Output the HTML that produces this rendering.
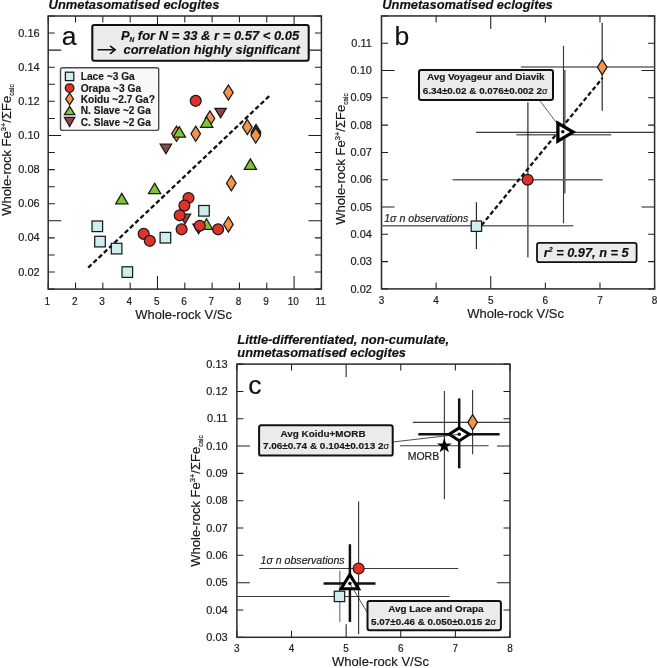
<!DOCTYPE html>
<html><head><meta charset="utf-8"><title>Eclogite Fe3+ vs V/Sc</title><style>
html,body{margin:0;padding:0;background:#fff;}
body{width:657px;height:668px;overflow:hidden;}
svg{display:block;}
text{font-family:"Liberation Sans",Arial,Helvetica,sans-serif;fill:#1a1a1a;stroke:#1a1a1a;stroke-width:0.18px;stroke-linejoin:round;}
.tk{font-size:10px;fill:#222;}
.ax{font-size:13px;fill:#1a1a1a;}
.sup{font-size:7.5px;}
.sub{font-size:6.5px;}
.ttl{font-size:12.9px;font-weight:bold;font-style:italic;fill:#111;}
.big{font-size:26.5px;fill:#111;}
.bi{font-size:12.8px;font-weight:bold;font-style:italic;fill:#111;}
.bi2{font-size:12.8px;font-weight:bold;font-style:italic;fill:#111;}
.subn{font-size:6.5px;}
.sup2{font-size:7px;}
.lg{font-size:10px;font-weight:bold;fill:#1a1a1a;}
.bx{font-size:9.9px;font-weight:bold;fill:#1a1a1a;}
.sg{font-weight:normal;font-size:9px;}
.it{font-size:10.6px;font-style:italic;fill:#222;}
.mo{font-size:10.5px;fill:#222;}
</style></head><body>
<svg width="657" height="668" viewBox="0 0 657 668">
<rect width="657" height="668" fill="#fff"/>
<text x="48.6" y="9.3" class="ttl" textLength="170.8" lengthAdjust="spacingAndGlyphs">Unmetasomatised eclogites</text>
<path d="M48.2 289.1V282.6M48.2 16V22.5M75.52 289.1V282.6M75.52 16V22.5M102.84 289.1V282.6M102.84 16V22.5M130.16 289.1V282.6M130.16 16V22.5M157.48 289.1V276.1M157.48 16V29M184.8 289.1V282.6M184.8 16V22.5M212.12 289.1V282.6M212.12 16V22.5M239.44 289.1V282.6M239.44 16V22.5M266.76 289.1V282.6M266.76 16V22.5M294.08 289.1V276.1M294.08 16V29M321.4 289.1V282.6M321.4 16V22.5M48.2 289.1H54.7M321.4 289.1H314.9M48.2 272.03H54.7M321.4 272.03H314.9M48.2 254.96H54.7M321.4 254.96H314.9M48.2 237.89H54.7M321.4 237.89H314.9M48.2 220.83H61.2M321.4 220.83H308.4M48.2 203.76H54.7M321.4 203.76H314.9M48.2 186.69H54.7M321.4 186.69H314.9M48.2 169.62H54.7M321.4 169.62H314.9M48.2 152.55H54.7M321.4 152.55H314.9M48.2 135.48H61.2M321.4 135.48H308.4M48.2 118.41H54.7M321.4 118.41H314.9M48.2 101.34H54.7M321.4 101.34H314.9M48.2 84.28H54.7M321.4 84.28H314.9M48.2 67.21H54.7M321.4 67.21H314.9M48.2 50.14H61.2M321.4 50.14H308.4M48.2 33.07H54.7M321.4 33.07H314.9M48.2 16H54.7M321.4 16H314.9" stroke="#1e1e1e" stroke-width="1.05" fill="none"/>
<rect x="48.2" y="16" width="273.2" height="273.1" fill="none" stroke="#2a2a2a" stroke-width="1.5"/>
<text x="47.4" y="304.6" class="tk" text-anchor="middle">1</text>
<text x="74.72" y="304.6" class="tk" text-anchor="middle">2</text>
<text x="102.04" y="304.6" class="tk" text-anchor="middle">3</text>
<text x="129.36" y="304.6" class="tk" text-anchor="middle">4</text>
<text x="156.68" y="304.6" class="tk" text-anchor="middle">5</text>
<text x="184" y="304.6" class="tk" text-anchor="middle">6</text>
<text x="211.32" y="304.6" class="tk" text-anchor="middle">7</text>
<text x="238.64" y="304.6" class="tk" text-anchor="middle">8</text>
<text x="265.96" y="304.6" class="tk" text-anchor="middle">9</text>
<text x="293.28" y="304.6" class="tk" text-anchor="middle">10</text>
<text x="320.6" y="304.6" class="tk" text-anchor="middle">11</text>
<text transform="translate(39.6 275.63) scale(1.1 1)" class="tk" text-anchor="end">0.02</text>
<text transform="translate(39.6 241.49) scale(1.1 1)" class="tk" text-anchor="end">0.04</text>
<text transform="translate(39.6 207.36) scale(1.1 1)" class="tk" text-anchor="end">0.06</text>
<text transform="translate(39.6 173.22) scale(1.1 1)" class="tk" text-anchor="end">0.08</text>
<text transform="translate(39.6 139.08) scale(1.1 1)" class="tk" text-anchor="end">0.10</text>
<text transform="translate(39.6 104.94) scale(1.1 1)" class="tk" text-anchor="end">0.12</text>
<text transform="translate(39.6 70.81) scale(1.1 1)" class="tk" text-anchor="end">0.14</text>
<text transform="translate(39.6 36.67) scale(1.1 1)" class="tk" text-anchor="end">0.16</text>
<text transform="translate(11.2 150) rotate(-90)" class="ax" text-anchor="middle">Whole-rock Fe<tspan class="sup" dy="-5.5">3+</tspan><tspan dy="5.5">/&#931;Fe</tspan><tspan class="sub" dy="2.5">calc</tspan></text>
<text x="183.6" y="319" class="ax" text-anchor="middle">Whole-rock V/Sc</text>
<text x="61.8" y="44.9" class="big">a</text>
<path d="M88.2 267.7L269.3 96" stroke="#111" stroke-width="2.3" fill="none" stroke-dasharray="4.6 2.6"/>
<rect x="92.3" y="25" width="216.4" height="35.7" rx="2" fill="#ebebeb" stroke="#111" stroke-width="2.1"/>
<text x="121" y="39.9" class="bi">P<tspan class="subn" dy="2.2">N</tspan><tspan dy="-2.2" textLength="165.0" lengthAdjust="spacingAndGlyphs"> for N = 33 &amp; r = 0.57 &lt; 0.05</tspan></text>
<text x="123.5" y="54.0" class="bi" textLength="176.6" lengthAdjust="spacingAndGlyphs">correlation highly significant</text>
<path d="M97.5 49.8H114.8M110 45.8L115.2 49.8L110 53.8" stroke="#111" stroke-width="1.6" fill="none"/>
<rect x="60.5" y="67.8" width="98.2" height="62.6" rx="2" fill="#f8f8f8" stroke="#4a4a4a" stroke-width="1.4"/>
<rect x="65.4" y="72.2" width="8.4" height="8.4" fill="#cdeeee" stroke="#1a1a1a" stroke-width="1.25"/>
<circle cx="69.6" cy="88.1" r="4.3" fill="#e0312a" stroke="#1a1a1a" stroke-width="1.25"/>
<path d="M69.6 93L73.5 98.9L69.6 104.8L65.7 98.9Z" fill="#f7944a" stroke="#1a1a1a" stroke-width="1.25" stroke-linejoin="miter"/>
<path d="M69.6 106.3L74.8 114.7L64.4 114.7Z" fill="#7ec636" stroke="#1a1a1a" stroke-width="1.25"/>
<path d="M64.4 117.3L74.8 117.3L69.6 126.5Z" fill="#8e4646" stroke="#1a1a1a" stroke-width="1.25"/>
<text x="80.7" y="80.2" class="lg" textLength="54.1" lengthAdjust="spacingAndGlyphs">Lace ~3 Ga</text>
<text x="80.7" y="91.58" class="lg" textLength="60.4" lengthAdjust="spacingAndGlyphs">Orapa ~3 Ga</text>
<text x="80.7" y="102.96" class="lg" textLength="74.3" lengthAdjust="spacingAndGlyphs">Koidu ~2.7 Ga?</text>
<text x="80.7" y="114.34" class="lg" textLength="70.1" lengthAdjust="spacingAndGlyphs">N. Slave ~2 Ga</text>
<text x="80.7" y="125.72" class="lg" textLength="70.1" lengthAdjust="spacingAndGlyphs">C. Slave ~2 Ga</text>
<path d="M179.3 214.2L190.7 214.2L185 223.8Z" fill="#8e4646" stroke="#1a1a1a" stroke-width="1.25"/>
<path d="M192.9 224.2L204.3 224.2L198.6 233.8Z" fill="#8e4646" stroke="#1a1a1a" stroke-width="1.25"/>
<path d="M228.4 85L233.2 92.6L228.4 100.2L223.6 92.6Z" fill="#f7944a" stroke="#1a1a1a" stroke-width="1.25" stroke-linejoin="miter"/>
<path d="M209.9 110.9L214.7 118.5L209.9 126.1L205.1 118.5Z" fill="#f7944a" stroke="#1a1a1a" stroke-width="1.25" stroke-linejoin="miter"/>
<path d="M176.5 126.2L181.3 133.8L176.5 141.4L171.7 133.8Z" fill="#f7944a" stroke="#1a1a1a" stroke-width="1.25" stroke-linejoin="miter"/>
<path d="M195.7 126.2L200.5 133.8L195.7 141.4L190.9 133.8Z" fill="#f7944a" stroke="#1a1a1a" stroke-width="1.25" stroke-linejoin="miter"/>
<path d="M247.3 119.5L252.1 127.1L247.3 134.7L242.5 127.1Z" fill="#f7944a" stroke="#1a1a1a" stroke-width="1.25" stroke-linejoin="miter"/>
<path d="M256 124.3L260.8 131.9L256 139.5L251.2 131.9Z" fill="#f7944a" stroke="#1a1a1a" stroke-width="1.25" stroke-linejoin="miter"/>
<path d="M255.9 126.1L260.7 133.7L255.9 141.3L251.1 133.7Z" fill="#f7944a" stroke="#1a1a1a" stroke-width="1.25" stroke-linejoin="miter"/>
<path d="M255.75 127.9L260.55 135.5L255.75 143.1L250.95 135.5Z" fill="#f7944a" stroke="#1a1a1a" stroke-width="1.25" stroke-linejoin="miter"/>
<path d="M231.3 175.6L236.1 183.2L231.3 190.8L226.5 183.2Z" fill="#f7944a" stroke="#1a1a1a" stroke-width="1.25" stroke-linejoin="miter"/>
<path d="M228.4 216.8L233.2 224.4L228.4 232L223.6 224.4Z" fill="#f7944a" stroke="#1a1a1a" stroke-width="1.25" stroke-linejoin="miter"/>
<path d="M214.9 108.3L226.3 108.3L220.6 117.9Z" fill="#8e4646" stroke="#1a1a1a" stroke-width="1.25"/>
<path d="M160.2 144.2L171.6 144.2L165.9 153.8Z" fill="#8e4646" stroke="#1a1a1a" stroke-width="1.25"/>
<path d="M206.7 116.75L212.85 127.25L200.55 127.25Z" fill="#7ec636" stroke="#1a1a1a" stroke-width="1.25"/>
<path d="M179.3 126.65L185.45 137.15L173.15 137.15Z" fill="#7ec636" stroke="#1a1a1a" stroke-width="1.25"/>
<path d="M121.8 193.35L127.95 203.85L115.65 203.85Z" fill="#7ec636" stroke="#1a1a1a" stroke-width="1.25"/>
<path d="M154.6 183.15L160.75 193.65L148.45 193.65Z" fill="#7ec636" stroke="#1a1a1a" stroke-width="1.25"/>
<path d="M250.4 158.85L256.55 169.35L244.25 169.35Z" fill="#7ec636" stroke="#1a1a1a" stroke-width="1.25"/>
<path d="M206.5 218.75L212.65 229.25L200.35 229.25Z" fill="#7ec636" stroke="#1a1a1a" stroke-width="1.25"/>
<circle cx="195.7" cy="100.8" r="5.45" fill="#e0312a" stroke="#1a1a1a" stroke-width="1.25"/>
<circle cx="143.7" cy="233.9" r="5.45" fill="#e0312a" stroke="#1a1a1a" stroke-width="1.25"/>
<circle cx="149.8" cy="240.8" r="5.45" fill="#e0312a" stroke="#1a1a1a" stroke-width="1.25"/>
<circle cx="188.5" cy="198" r="5.45" fill="#e0312a" stroke="#1a1a1a" stroke-width="1.25"/>
<circle cx="184.4" cy="205.6" r="5.45" fill="#e0312a" stroke="#1a1a1a" stroke-width="1.25"/>
<circle cx="179.7" cy="215.3" r="5.45" fill="#e0312a" stroke="#1a1a1a" stroke-width="1.25"/>
<circle cx="181.6" cy="229.3" r="5.45" fill="#e0312a" stroke="#1a1a1a" stroke-width="1.25"/>
<circle cx="199.8" cy="225.7" r="5.45" fill="#e0312a" stroke="#1a1a1a" stroke-width="1.25"/>
<circle cx="218.1" cy="229.3" r="5.45" fill="#e0312a" stroke="#1a1a1a" stroke-width="1.25"/>
<rect x="92" y="221" width="10.6" height="10.6" fill="#cdeeee" stroke="#1a1a1a" stroke-width="1.25"/>
<rect x="94.7" y="236.3" width="10.6" height="10.6" fill="#cdeeee" stroke="#1a1a1a" stroke-width="1.25"/>
<rect x="111.3" y="243.3" width="10.6" height="10.6" fill="#cdeeee" stroke="#1a1a1a" stroke-width="1.25"/>
<rect x="122" y="266.8" width="10.6" height="10.6" fill="#cdeeee" stroke="#1a1a1a" stroke-width="1.25"/>
<rect x="160.1" y="232.4" width="10.6" height="10.6" fill="#cdeeee" stroke="#1a1a1a" stroke-width="1.25"/>
<rect x="198.7" y="205.5" width="10.6" height="10.6" fill="#cdeeee" stroke="#1a1a1a" stroke-width="1.25"/>
<text x="382.2" y="9.3" class="ttl" textLength="170.6" lengthAdjust="spacingAndGlyphs">Unmetasomatised eclogites</text>
<path d="M381.5 288.9V282.4M381.5 15.95V22.45M436.12 288.9V282.4M436.12 15.95V22.45M490.74 288.9V275.9M490.74 15.95V28.95M545.36 288.9V282.4M545.36 15.95V22.45M599.98 288.9V282.4M599.98 15.95V22.45M654.6 288.9V282.4M654.6 15.95V22.45M381.5 288.9H388M654.6 288.9H648.1M381.5 261.6H388M654.6 261.6H648.1M381.5 234.31H388M654.6 234.31H648.1M381.5 207.01H394.5M654.6 207.01H641.6M381.5 179.72H388M654.6 179.72H648.1M381.5 152.42H388M654.6 152.42H648.1M381.5 125.13H388M654.6 125.13H648.1M381.5 97.84H388M654.6 97.84H648.1M381.5 70.54H394.5M654.6 70.54H641.6M381.5 43.24H388M654.6 43.24H648.1M381.5 15.95H388M654.6 15.95H648.1" stroke="#1e1e1e" stroke-width="1.05" fill="none"/>
<rect x="381.5" y="15.95" width="273.1" height="272.95" fill="none" stroke="#2a2a2a" stroke-width="1.5"/>
<text x="381.5" y="304.1" class="tk" text-anchor="middle">3</text>
<text x="436.12" y="304.1" class="tk" text-anchor="middle">4</text>
<text x="490.74" y="304.1" class="tk" text-anchor="middle">5</text>
<text x="545.36" y="304.1" class="tk" text-anchor="middle">6</text>
<text x="599.98" y="304.1" class="tk" text-anchor="middle">7</text>
<text x="654.6" y="304.1" class="tk" text-anchor="middle">8</text>
<text transform="translate(371.9 292.5) scale(1.1 1)" class="tk" text-anchor="end">0.02</text>
<text transform="translate(371.9 265.2) scale(1.1 1)" class="tk" text-anchor="end">0.03</text>
<text transform="translate(371.9 237.91) scale(1.1 1)" class="tk" text-anchor="end">0.04</text>
<text transform="translate(371.9 210.61) scale(1.1 1)" class="tk" text-anchor="end">0.05</text>
<text transform="translate(371.9 183.32) scale(1.1 1)" class="tk" text-anchor="end">0.06</text>
<text transform="translate(371.9 156.02) scale(1.1 1)" class="tk" text-anchor="end">0.07</text>
<text transform="translate(371.9 128.73) scale(1.1 1)" class="tk" text-anchor="end">0.08</text>
<text transform="translate(371.9 101.44) scale(1.1 1)" class="tk" text-anchor="end">0.09</text>
<text transform="translate(371.9 74.14) scale(1.1 1)" class="tk" text-anchor="end">0.10</text>
<text transform="translate(371.9 46.84) scale(1.1 1)" class="tk" text-anchor="end">0.11</text>
<text transform="translate(345 159) rotate(-90)" class="ax" text-anchor="middle">Whole-rock Fe<tspan class="sup" dy="-5.5">3+</tspan><tspan dy="5.5">/&#931;Fe</tspan><tspan class="sub" dy="2.5">calc</tspan></text>
<text x="515.6" y="318.4" class="ax" text-anchor="middle">Whole-rock V/Sc</text>
<text x="394.5" y="44.6" class="big">b</text>
<path d="M602.2 22.7L602.2 110.8" stroke="#222" stroke-width="1.15" fill="none"/>
<path d="M520.9 67L654.6 67" stroke="#666" stroke-width="1.4" fill="none"/>
<path d="M563.5 45.8L563.5 223.3" stroke="#3a3a3a" stroke-width="1.15" fill="none"/>
<path d="M564.8 69.9L564.8 193.5" stroke="#666" stroke-width="1.6" fill="none"/>
<path d="M476.1 132.4L654.6 132.4" stroke="#3a3a3a" stroke-width="1.15" fill="none"/>
<path d="M516.4 134.7L611.2 134.7" stroke="#666" stroke-width="1.4" fill="none"/>
<path d="M527.9 102.3L527.9 257.5" stroke="#222" stroke-width="1.15" fill="none"/>
<path d="M452.5 179.8L602.7 179.8" stroke="#666" stroke-width="1.4" fill="none"/>
<path d="M476.4 202.3L476.4 248.9" stroke="#222" stroke-width="1.15" fill="none"/>
<path d="M381.7 225.8L573.4 225.8" stroke="#666" stroke-width="1.4" fill="none"/>
<path d="M481.5 225.3L602.5 78" stroke="#111" stroke-width="2.3" fill="none" stroke-dasharray="4.4 2.6"/>
<path d="M540 100.8L556.8 123.2" stroke="#222" stroke-width="0.7" fill="none"/>
<path d="M602.2 59.6L607 67.2L602.2 74.8L597.4 67.2Z" fill="#f7944a" stroke="#1a1a1a" stroke-width="1.25" stroke-linejoin="miter"/>
<circle cx="527.7" cy="179.7" r="5.45" fill="#e0312a" stroke="#1a1a1a" stroke-width="1.25"/>
<rect x="471.2" y="221" width="10.4" height="10.4" fill="#cdeeee" stroke="#1a1a1a" stroke-width="1.25"/>
<path d="M557.9 123.1L573.0 132.1L557.9 141.1Z" fill="#fff" stroke="#000" stroke-width="3.3" stroke-linejoin="miter"/>
<circle cx="562.8" cy="131.8" r="1.8" fill="#111"/>
<rect x="419" y="69.9" width="134" height="30" rx="2.2" fill="#ebebeb" stroke="#111" stroke-width="2.0"/>
<text x="426.9" y="80.1" class="bx" textLength="117.5" lengthAdjust="spacingAndGlyphs">Avg Voyageur and Diavik</text>
<text x="422.8" y="93.8" class="bx" textLength="124.8" lengthAdjust="spacingAndGlyphs">6.34&#177;0.02 &amp; 0.076&#177;0.002 2<tspan class="sg">&#963;</tspan></text>
<text x="384.2" y="222.3" class="it">1&#963; n observations</text>
<rect x="537" y="242.9" width="99.6" height="19.2" rx="2.2" fill="#ebebeb" stroke="#111" stroke-width="1.8"/>
<text x="543.7" y="256.8" class="bi2">r<tspan class="sup2" dy="-5">2</tspan><tspan dy="5"> = 0.97, n = 5</tspan></text>
<text x="237.3" y="344.3" class="ttl" textLength="211.7" lengthAdjust="spacingAndGlyphs">Little-differentiated, non-cumulate,</text>
<text x="237.3" y="356.6" class="ttl" textLength="168.7" lengthAdjust="spacingAndGlyphs">unmetasomatised eclogites</text>
<path d="M236.9 637.3V630.8M236.9 364.1V370.6M291.52 637.3V630.8M291.52 364.1V370.6M346.14 637.3V624.3M346.14 364.1V377.1M400.76 637.3V630.8M400.76 364.1V370.6M455.38 637.3V630.8M455.38 364.1V370.6M510 637.3V630.8M510 364.1V370.6M236.9 637.3H243.4M510 637.3H503.5M236.9 609.98H243.4M510 609.98H503.5M236.9 582.66H249.9M510 582.66H497M236.9 555.34H243.4M510 555.34H503.5M236.9 528.02H243.4M510 528.02H503.5M236.9 500.7H243.4M510 500.7H503.5M236.9 473.38H243.4M510 473.38H503.5M236.9 446.06H249.9M510 446.06H497M236.9 418.74H243.4M510 418.74H503.5M236.9 391.42H243.4M510 391.42H503.5M236.9 364.1H243.4M510 364.1H503.5" stroke="#1e1e1e" stroke-width="1.05" fill="none"/>
<rect x="236.9" y="364.1" width="273.1" height="273.2" fill="none" stroke="#2a2a2a" stroke-width="1.5"/>
<text x="236.9" y="651.9" class="tk" text-anchor="middle">3</text>
<text x="291.52" y="651.9" class="tk" text-anchor="middle">4</text>
<text x="346.14" y="651.9" class="tk" text-anchor="middle">5</text>
<text x="400.76" y="651.9" class="tk" text-anchor="middle">6</text>
<text x="455.38" y="651.9" class="tk" text-anchor="middle">7</text>
<text x="510" y="651.9" class="tk" text-anchor="middle">8</text>
<text transform="translate(227.6 640.9) scale(1.1 1)" class="tk" text-anchor="end">0.03</text>
<text transform="translate(227.6 613.58) scale(1.1 1)" class="tk" text-anchor="end">0.04</text>
<text transform="translate(227.6 586.26) scale(1.1 1)" class="tk" text-anchor="end">0.05</text>
<text transform="translate(227.6 558.94) scale(1.1 1)" class="tk" text-anchor="end">0.06</text>
<text transform="translate(227.6 531.62) scale(1.1 1)" class="tk" text-anchor="end">0.07</text>
<text transform="translate(227.6 504.3) scale(1.1 1)" class="tk" text-anchor="end">0.08</text>
<text transform="translate(227.6 476.98) scale(1.1 1)" class="tk" text-anchor="end">0.09</text>
<text transform="translate(227.6 449.66) scale(1.1 1)" class="tk" text-anchor="end">0.10</text>
<text transform="translate(227.6 422.34) scale(1.1 1)" class="tk" text-anchor="end">0.11</text>
<text transform="translate(227.6 395.02) scale(1.1 1)" class="tk" text-anchor="end">0.12</text>
<text transform="translate(227.6 367.7) scale(1.1 1)" class="tk" text-anchor="end">0.13</text>
<text transform="translate(200.2 501) rotate(-90)" class="ax" text-anchor="middle">Whole-rock Fe<tspan class="sup" dy="-5.5">3+</tspan><tspan dy="5.5">/&#931;Fe</tspan><tspan class="sub" dy="2.5">calc</tspan></text>
<text x="380.5" y="665.6" class="ax" text-anchor="middle">Whole-rock V/Sc</text>
<text x="248.2" y="393.6" class="big">c</text>
<path d="M444.4 391L444.4 499.3" stroke="#3a3a3a" stroke-width="1.15" fill="none"/>
<path d="M400 445.7L488.6 445.7" stroke="#3a3a3a" stroke-width="1.15" fill="none"/>
<path d="M472.6 390.1L472.6 454.2" stroke="#3a3a3a" stroke-width="1.15" fill="none"/>
<path d="M412.8 422.3L510 422.3" stroke="#3a3a3a" stroke-width="1.15" fill="none"/>
<path d="M459.2 398.4L459.2 468.3" stroke="#111" stroke-width="2.5" fill="none"/>
<path d="M418.3 434.2L499.6 434.2" stroke="#111" stroke-width="2.5" fill="none"/>
<path d="M472.6 414.7L477.4 422.3L472.6 429.9L467.8 422.3Z" fill="#f7944a" stroke="#1a1a1a" stroke-width="1.25" stroke-linejoin="miter"/>
<path d="M459.3 427.9L469.4 434.3L459.3 440.7L449.2 434.3Z" fill="#fff" stroke="#000" stroke-width="3.0" stroke-linejoin="miter"/>
<path d="M392.7 442L459.2 434.3" stroke="#222" stroke-width="0.8" fill="none"/>
<circle cx="459.2" cy="434.2" r="1.8" fill="#111"/>
<path d="M444.3 438.1L446.12 443.39L451.72 443.49L447.25 446.86L448.88 452.21L444.3 449L439.72 452.21L441.35 446.86L436.88 443.49L442.48 443.39Z" fill="#000"/>
<text x="407.7" y="459.7" class="mo">MORB</text>
<rect x="259.1" y="425.3" width="133.6" height="30.3" rx="2.2" fill="#ebebeb" stroke="#111" stroke-width="2.0"/>
<text x="280.5" y="436.7" class="bx" textLength="85.1" lengthAdjust="spacingAndGlyphs">Avg Koidu+MORB</text>
<text x="262.9" y="449.4" class="bx" textLength="126.2" lengthAdjust="spacingAndGlyphs">7.06&#177;0.74 &amp; 0.104&#177;0.013 2<tspan class="sg">&#963;</tspan></text>
<path d="M358.6 501.5L358.6 634.2" stroke="#3a3a3a" stroke-width="1.15" fill="none"/>
<path d="M259.2 568.5L458.2 568.5" stroke="#3a3a3a" stroke-width="1.15" fill="none"/>
<path d="M339.8 570.7L339.8 621.9" stroke="#777" stroke-width="1.2" fill="none"/>
<path d="M236.9 596.5L449.5 596.5" stroke="#3a3a3a" stroke-width="1.15" fill="none"/>
<path d="M349.9 544.2L349.9 621.9" stroke="#111" stroke-width="2.5" fill="none"/>
<path d="M323.6 583.6L375.5 583.6" stroke="#111" stroke-width="2.5" fill="none"/>
<circle cx="358.6" cy="568.5" r="5.45" fill="#e0312a" stroke="#1a1a1a" stroke-width="1.25"/>
<rect x="334.3" y="591.2" width="10.4" height="10.4" fill="#cdeeee" stroke="#1a1a1a" stroke-width="1.25"/>
<path d="M349.8 574.6L358.5 588.7L341.1 588.7Z" fill="#fff" stroke="#000" stroke-width="3.1" stroke-linejoin="miter"/>
<path d="M349.9 583.6L367.6 613" stroke="#222" stroke-width="0.8" fill="none"/>
<circle cx="349.9" cy="583.5" r="1.8" fill="#111"/>
<text x="260.5" y="563.6" class="it">1&#963; n observations</text>
<rect x="367.5" y="601.1" width="133.4" height="29.2" rx="2.2" fill="#ebebeb" stroke="#111" stroke-width="2.0"/>
<text x="388.2" y="611.5" class="bx" textLength="95.4" lengthAdjust="spacingAndGlyphs">Avg Lace and Orapa</text>
<text x="371.1" y="624.6" class="bx" textLength="125.0" lengthAdjust="spacingAndGlyphs">5.07&#177;0.46 &amp; 0.050&#177;0.015 2<tspan class="sg">&#963;</tspan></text>
</svg>
</body></html>
